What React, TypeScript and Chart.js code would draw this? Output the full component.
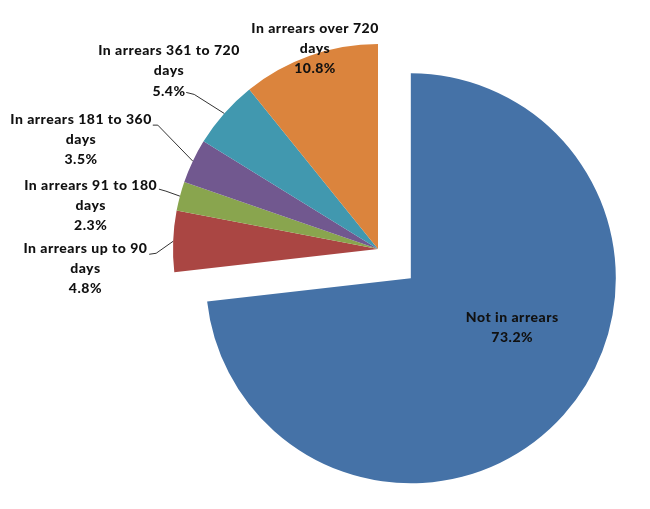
import React, { useEffect, useRef } from "react";
import { Chart, registerables } from "chart.js";

Chart.register(...registerables);

// ---- data ----
const categories = [
  "Not in arrears",
  "In arrears up to 90 days",
  "In arrears 91 to 180 days",
  "In arrears 181 to 360 days",
  "In arrears 361 to 720 days",
  "In arrears over 720 days",
];
const labelLines = [
  ["Not in arrears"],
  ["In arrears up to 90", "days"],
  ["In arrears 91 to 180", "days"],
  ["In arrears 181 to 360", "days"],
  ["In arrears 361 to 720", "days"],
  ["In arrears over 720", "days"],
];
const shares = [73.2, 4.8, 2.3, 3.5, 5.4, 10.8];

// ---- styles ----
const colors = ["#4572A7", "#AA4643", "#89A54E", "#71588F", "#4198AF", "#DB843D"];
const explode = [44, 0, 0, 0, 0, 0];
const FONT = "900 14px Lato, 'Liberation Sans', sans-serif";
const LETTER_SPACING = 0.5;
const LINE_H = 20.3;

// label placement relative to the outer mid-point of each slice (or centre for index 0)
type Place = { dx: number; dy: number; elbow?: [number, number]; end?: [number, number]; fromCenter?: boolean };
const labelPlacement: Place[] = [
  { dx: 134, dy: 68, fromCenter: true },
  { dx: -88, dy: 7, elbow: [-17, 12], end: [-24, 13] },
  { dx: -89.5, dy: -11, elbow: [-14, -5], end: [-21, -7] },
  { dx: -112, dy: -42, elbow: [-35, -36], end: [-40, -36] },
  { dx: -55.5, dy: -63, elbow: [-30, -19], end: [-38, -21] },
  { dx: 5, dy: -27.6 },
];

const explodePlugin = {
  id: "explodeDraw",
  beforeDatasetDraw(chart: any, args: any) {
    const ctx = chart.ctx;
    const meta = args.meta;
    meta.data.forEach((arc: any, i: number) => {
      const mid = (arc.startAngle + arc.endAngle) / 2;
      const off = explode[i] || 0;
      ctx.save();
      ctx.translate(Math.cos(mid) * off, Math.sin(mid) * off);
      arc.draw(ctx, chart.chartArea);
      ctx.restore();
    });
    return false;
  },
};

const labelPlugin = {
  id: "pieLabels",
  afterDatasetsDraw(chart: any) {
    const ctx = chart.ctx;
    const meta = chart.getDatasetMeta(0);
    ctx.save();
    ctx.font = FONT;
    try {
      (ctx as any).letterSpacing = LETTER_SPACING + "px";
    } catch (e) {}
    ctx.fillStyle = "#111111";
    ctx.textAlign = "center";
    ctx.textBaseline = "middle";
    ctx.strokeStyle = "#333333";
    ctx.lineWidth = 1;
    meta.data.forEach((arc: any, i: number) => {
      const p = labelPlacement[i];
      const mid = (arc.startAngle + arc.endAngle) / 2;
      let ax: number, ay: number;
      if (p.fromCenter) {
        ax = arc.x;
        ay = arc.y;
      } else {
        ax = arc.x + Math.cos(mid) * arc.outerRadius;
        ay = arc.y + Math.sin(mid) * arc.outerRadius;
      }
      const lines = [...labelLines[i], shares[i].toFixed(1) + "%"];
      lines.forEach((t, k) => {
        ctx.fillText(t, ax + p.dx + LETTER_SPACING / 2, ay + p.dy + k * LINE_H);
      });
      if (p.elbow && p.end) {
        ctx.beginPath();
        ctx.moveTo(ax, ay);
        ctx.lineTo(ax + p.elbow[0], ay + p.elbow[1]);
        ctx.lineTo(ax + p.end[0], ay + p.end[1]);
        ctx.stroke();
      }
    });
    ctx.restore();
  },
};

export default function App() {
  const ref = useRef<HTMLCanvasElement | null>(null);
  useEffect(() => {
    if (!ref.current) return;
    const chart = new Chart(ref.current, {
      type: "pie",
      data: {
        labels: categories,
        datasets: [
          {
            data: shares,
            backgroundColor: colors,
            borderWidth: 0,
          },
        ],
      },
      options: {
        responsive: false,
        animation: false,
        layout: { padding: { left: 165, right: 59, top: 36, bottom: 47 } },
        plugins: {
          legend: { display: false },
          tooltip: { enabled: false },
        },
      },
      plugins: [explodePlugin, labelPlugin],
    });
    return () => chart.destroy();
  }, []);
  return (
    <div style={{ width: 634, height: 493 }}>
      <canvas ref={ref} width={634} height={493} />
    </div>
  );
}
